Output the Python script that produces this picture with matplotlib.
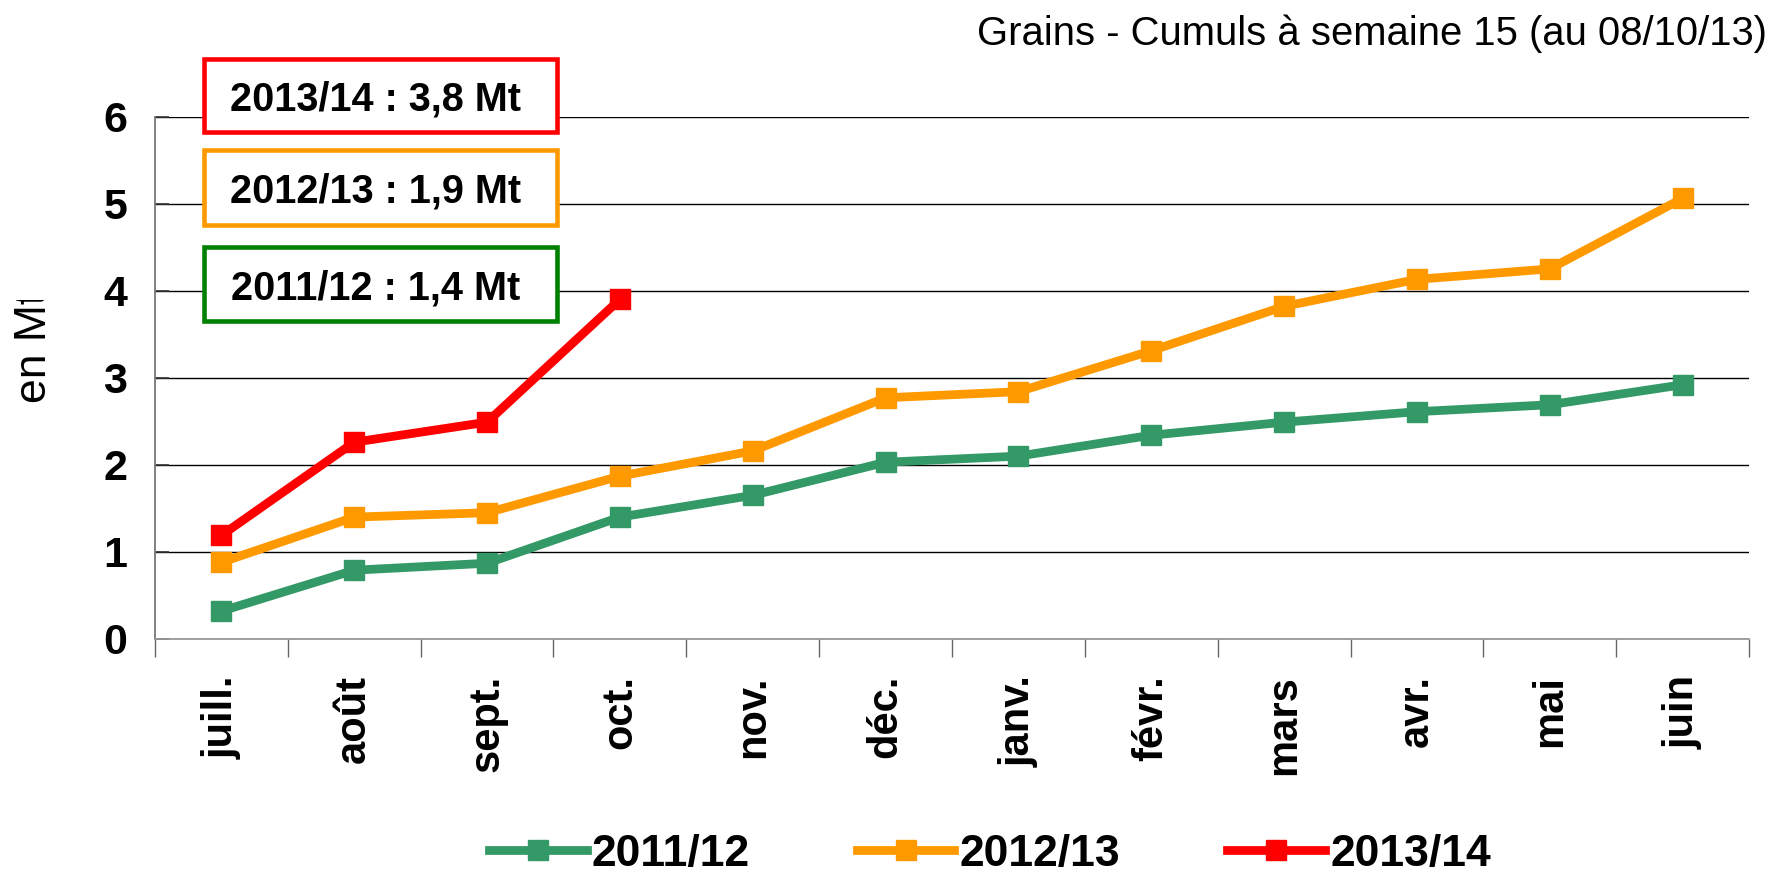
import matplotlib
matplotlib.use("Agg")
import matplotlib.pyplot as plt
from matplotlib.patches import Rectangle
from matplotlib.transforms import Bbox, TransformedBbox

months = ["juill.", "août", "sept.", "oct.", "nov.", "déc.", "janv.", "févr.",
          "mars", "avr.", "mai", "juin"]
s2011 = [0.32, 0.79, 0.87, 1.40, 1.65, 2.03, 2.10, 2.34, 2.49, 2.61, 2.69, 2.92]
s2012 = [0.88, 1.40, 1.45, 1.87, 2.16, 2.77, 2.84, 3.31, 3.82, 4.13, 4.25, 5.06]
s2013 = [1.19, 2.26, 2.49, 3.90]
series_names = ["2011/12", "2012/13", "2013/14"]
box_labels = ["2013/14 : 3,8 Mt", "2012/13 : 1,9 Mt", "2011/12 : 1,4 Mt"]
title = "Grains - Cumuls à semaine 15 (au 08/10/13)"
ylabel = "en Mt"
yticks = [0, 1, 2, 3, 4, 5, 6]

GREEN = "#339966"
ORANGE = "#FF9900"
RED = "#FF0000"

plt.rcParams['font.family'] = ['Liberation Sans', 'DejaVu Sans']

W, H = 1774, 877
fig = plt.figure(figsize=(W / 100, H / 100), dpi=100)
ax = fig.add_axes([155 / W, 1 - 639 / H, 1594 / W, (639 - 116.5) / H])

x = list(range(len(months)))
lw = 6.3
ms = 14.5
ax.plot(x, s2011, color=GREEN, lw=lw, marker="s", ms=ms, label=series_names[0], zorder=3)
ax.plot(x, s2012, color=ORANGE, lw=lw, marker="s", ms=ms, label=series_names[1], zorder=3)
ax.plot(x[:len(s2013)], s2013, color=RED, lw=lw, marker="s", ms=ms, label=series_names[2], zorder=4)

ax.set_xlim(-0.5, len(months) - 0.5)
ax.set_ylim(0, 6)
ax.set_yticks(yticks)
ax.set_yticklabels([str(v) for v in yticks], fontsize=31, fontweight="bold")
ax.tick_params(axis="y", direction="in", length=10, width=1.2, color="#333333", pad=20)
ax.set_xticks(x)
ax.set_xticklabels(months, rotation=90, fontsize=30, fontweight="bold")
ax.tick_params(axis="x", which="major", length=0, pad=26)
ax.set_xticks([i - 0.5 for i in range(len(months) + 1)], minor=True)
ax.tick_params(axis="x", which="minor", direction="out", length=13, width=1, color="#666666")
ax.yaxis.grid(True, color="black", lw=1)
ax.set_axisbelow(True)
for s in ["top", "right"]:
    ax.spines[s].set_visible(False)
ax.spines["left"].set_color("#777777")
ax.spines["bottom"].set_color("#999999")
ax.spines["left"].set_linewidth(1.3)
ax.spines["bottom"].set_linewidth(1.3)

yl = fig.text(35 / W, 1 - 347 / H, ylabel, rotation=90, fontsize=32, ha="center", va="center")
yl.set_clip_box(TransformedBbox(Bbox([[0, 0], [0.08, 1 - 300 / H]]), fig.transFigure))
yl.set_clip_on(True)
fig.text(1767 / W, 1 - 45 / H, title, fontsize=28.8, ha="right", va="baseline")

# summary boxes
box_specs = [(59, 132, RED), (150, 225, ORANGE), (247, 321, "#008000")]
for (y0, y1, col), lab in zip(box_specs, box_labels):
    rect = Rectangle((204 / W, 1 - y1 / H), 353 / W, (y1 - y0) / H,
                     transform=fig.transFigure, fill=True, facecolor="white",
                     edgecolor=col, lw=3.3, zorder=10)
    fig.patches.append(rect)
    fig.text(376 / W, 1 - (y0 + y1) / 2 / H, lab, fontsize=28.5, fontweight="bold",
             ha="center", va="center_baseline", zorder=11)

leg = fig.legend(loc="center", bbox_to_anchor=(0.558, 0.026), ncol=3, frameon=False,
                 prop={"size": 32, "weight": "bold"}, handlelength=2.2,
                 handletextpad=0.12, columnspacing=2.4, markerscale=1.0)

fig.savefig("out.png", dpi=100, facecolor="white")
